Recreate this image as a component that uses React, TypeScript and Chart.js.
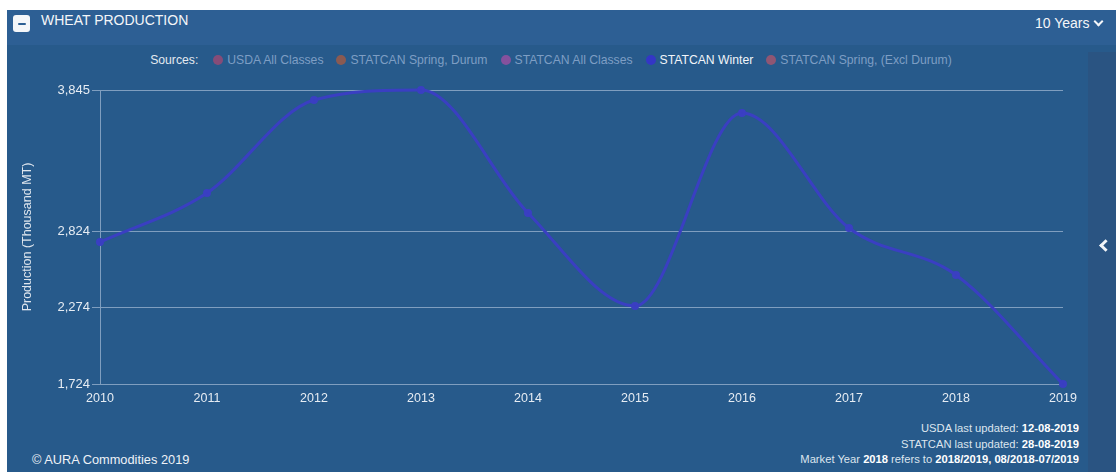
import React, { useEffect, useRef } from "react";
import { Chart, registerables } from "chart.js";

Chart.register(...registerables);

const years = ["2010", "2011", "2012", "2013", "2014", "2015", "2016", "2017", "2018", "2019"];
const winterValues = [2748, 3102, 3773, 3845, 2958, 2287, 3679, 2849, 2510, 1724];
const yTickValues = [1724, 2274, 2824, 3845];
const sourceNames = [
  "USDA All Classes",
  "STATCAN Spring, Durum",
  "STATCAN All Classes",
  "STATCAN Winter",
  "STATCAN Spring, (Excl Durum)",
];
const sourceColors = ["#984a74", "#9c5a48", "#9650a0", "#3436c6", "#a2566f"];
const activeSource = "STATCAN Winter";

const FONT = "'Liberation Sans', Arial, Helvetica, sans-serif";

export default function App() {
  const canvasRef = useRef<HTMLCanvasElement | null>(null);

  useEffect(() => {
    const canvas = canvasRef.current;
    if (!canvas) return;
    const chart = new Chart(canvas, {
      type: "line",
      data: {
        labels: years,
        datasets: [
          {
            label: activeSource,
            data: winterValues,
            borderColor: "#3a3fc2",
            backgroundColor: "#3a3fc2",
            pointBackgroundColor: "#3a3fc2",
            pointBorderColor: "#3a3fc2",
            borderWidth: 3,
            pointRadius: 2.5,
            cubicInterpolationMode: "monotone",
            clip: false as any,
          },
        ],
      },
      options: {
        animation: false,
        responsive: true,
        maintainAspectRatio: false,
        layout: { padding: { top: 20, right: 25, left: 0, bottom: 0 } },
        plugins: { legend: { display: false }, tooltip: { enabled: false } },
        scales: {
          x: {
            grid: { display: false, drawTicks: false },
            border: { display: false },
            ticks: {
              color: "#e6ecf3",
              font: { family: FONT, size: 12.5 },
              padding: 7,
              maxRotation: 0,
              autoSkip: false,
            },
            afterFit: (scale: any) => {
              scale.height = 28;
            },
          },
          y: {
            min: 1724,
            max: 3845,
            afterBuildTicks: (scale: any) => {
              scale.ticks = yTickValues.map((v) => ({ value: v }));
            },
            afterFit: (scale: any) => {
              scale.width = 93;
            },
            grid: {
              color: "rgba(200,215,235,0.55)",
              tickLength: 8,
              lineWidth: 1,
            },
            border: { display: true, color: "rgba(200,215,235,0.55)" },
            ticks: {
              color: "#e6ecf3",
              font: { family: FONT, size: 13 },
              padding: 2,
              callback: (v: any) => Number(v).toLocaleString("en-US"),
            },
            title: {
              display: true,
              text: "Production (Thousand MT)",
              color: "#dfe6ee",
              font: { family: FONT, size: 12.5 },
              padding: { top: 13, bottom: 0 },
            },
          },
        },
      },
    });
    return () => chart.destroy();
  }, []);

  const abs = (s: React.CSSProperties): React.CSSProperties => ({ position: "absolute", ...s });

  return (
    <div style={{ position: "fixed", left: 0, top: 0, width: 1116, height: 472, background: "#fff", overflow: "hidden", fontFamily: FONT }}>
      {/* header */}
      <div style={abs({ left: 7, top: 10, width: 1109, height: 35, background: "#2d5f94" })} />
      {/* panel */}
      <div style={abs({ left: 7, top: 45, width: 1109, height: 427, background: "#275a8b" })} />
      {/* sidebar */}
      <div style={abs({ left: 1088, top: 52, width: 28, height: 420, background: "#2a5482" })} />
      <div
        style={abs({
          left: 1101,
          top: 241,
          width: 6,
          height: 6,
          borderLeft: "3px solid #f2f5f9",
          borderBottom: "3px solid #f2f5f9",
          transform: "rotate(45deg)",
        })}
      />
      {/* minus icon */}
      <div style={abs({ left: 13, top: 15, width: 17, height: 17, background: "#f4f6f9", borderRadius: 3 })}>
        <div style={abs({ left: 4.5, top: 7.5, width: 8, height: 2.5, background: "#2d5f94", borderRadius: 1 })} />
      </div>
      <div style={abs({ left: 41, top: 10, height: 20, lineHeight: "20px", fontSize: 14, color: "#f4f6f9" })}>WHEAT PRODUCTION</div>
      <div style={abs({ left: 1035, top: 13, height: 20, lineHeight: "20px", fontSize: 14, color: "#f4f6f9" })}>10 Years</div>
      <div
        style={abs({
          left: 1095,
          top: 18,
          width: 5,
          height: 5,
          borderRight: "2px solid #f4f6f9",
          borderBottom: "2px solid #f4f6f9",
          transform: "rotate(45deg)",
        })}
      />
      {/* legend */}
      <div
        style={abs({
          left: 7,
          top: 52,
          width: 1088,
          height: 16,
          display: "flex",
          justifyContent: "center",
          alignItems: "center",
          fontSize: 12.2,
          whiteSpace: "nowrap",
        })}
      >
        <span style={{ color: "#e3e9f0", marginRight: 15 }}>Sources:</span>
        {sourceNames.map((name, i) => {
          const active = name === activeSource;
          return (
            <span key={name} style={{ display: "flex", alignItems: "center", marginRight: i < sourceNames.length - 1 ? 13 : 0 }}>
              <span
                style={{
                  display: "inline-block",
                  width: 10,
                  height: 10,
                  borderRadius: 5,
                  background: sourceColors[i],
                  opacity: active ? 1 : 0.85,
                  marginRight: 4,
                }}
              />
              <span style={{ color: active ? "#f2f5f9" : "#7e9ec4" }}>{name}</span>
            </span>
          );
        })}
      </div>
      {/* chart */}
      <div style={abs({ left: 7, top: 70, width: 1081, height: 342 })}>
        <canvas ref={canvasRef} />
      </div>
      {/* notes */}
      <div style={abs({ right: 1116 - 1079, top: 421, fontSize: 11.2, lineHeight: "15.5px", color: "#dde5ee", textAlign: "right", whiteSpace: "nowrap" })}>
        <div>
          USDA last updated: <b style={{ color: "#fff" }}>12-08-2019</b>
        </div>
        <div>
          STATCAN last updated: <b style={{ color: "#fff" }}>28-08-2019</b>
        </div>
        <div>
          Market Year <b style={{ color: "#fff" }}>2018</b> refers to <b style={{ color: "#fff" }}>2018/2019, 08/2018-07/2019</b>
        </div>
      </div>
      <div style={abs({ left: 32, top: 452, fontSize: 12.8, lineHeight: "16px", color: "#eef2f7", whiteSpace: "nowrap" })}>© AURA Commodities 2019</div>
    </div>
  );
}
